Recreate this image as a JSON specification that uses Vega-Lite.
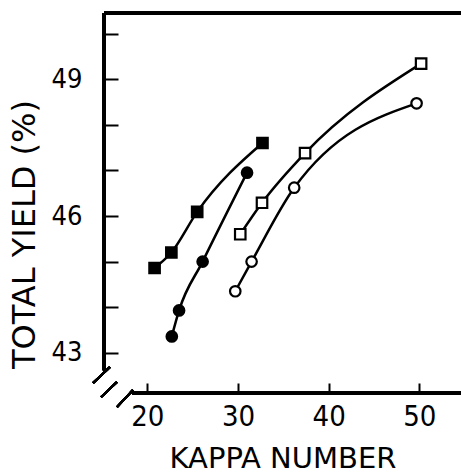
{
  "$schema": "https://vega.github.io/schema/vega-lite/v6.json",
  "width": 357,
  "height": 380,
  "autosize": "none",
  "padding": {"left": 104, "top": 13, "right": 0, "bottom": 83},
  "background": "white",
  "config": {"view": {"stroke": null}},
  "data": {
    "values": [
      {"series": "A", "kappa": 20.8, "yield": 44.86},
      {"series": "A", "kappa": 22.65, "yield": 45.2},
      {"series": "A", "kappa": 25.5, "yield": 46.09},
      {"series": "A", "kappa": 32.7, "yield": 47.6},
      {"series": "B", "kappa": 22.7, "yield": 43.36},
      {"series": "B", "kappa": 23.5, "yield": 43.93},
      {"series": "B", "kappa": 26.1, "yield": 45.0},
      {"series": "B", "kappa": 31.0, "yield": 46.95},
      {"series": "C", "kappa": 30.25, "yield": 45.6},
      {"series": "C", "kappa": 32.65, "yield": 46.29},
      {"series": "C", "kappa": 37.4, "yield": 47.38},
      {"series": "C", "kappa": 50.2, "yield": 49.34},
      {"series": "D", "kappa": 29.7, "yield": 44.35},
      {"series": "D", "kappa": 31.5, "yield": 45.0},
      {"series": "D", "kappa": 36.2, "yield": 46.62},
      {"series": "D", "kappa": 49.7, "yield": 48.47}
    ]
  },
  "encoding": {
    "x": {
      "field": "kappa", "type": "quantitative",
      "scale": {"domain": [15.22, 54.6], "nice": false, "zero": false},
      "axis": {
        "title": "KAPPA NUMBER", "values": [20, 30, 40, 50], "grid": false, "domain": false,
        "tickSize": -10, "tickWidth": 2, "tickColor": "black",
        "labelFont": "DejaVu Sans Condensed", "labelFontSize": 29, "labelColor": "black", "labelPadding": 19,
        "titleFont": "DejaVu Sans", "titleFontSize": 29, "titleFontWeight": "normal", "titleColor": "black", "titlePadding": 13
      }
    },
    "y": {
      "field": "yield", "type": "quantitative",
      "scale": {"domain": [42.12, 50.45], "nice": false, "zero": false},
      "axis": {
        "title": "TOTAL YIELD (%)", "values": [43, 44, 45, 46, 47, 48, 49, 50], "grid": false, "domain": false,
        "labelExpr": "datum.value % 3 == 1 ? datum.label : ''",
        "tickSize": -14, "tickWidth": 2, "tickColor": "black",
        "labelFont": "DejaVu Sans Condensed", "labelFontSize": 27, "labelColor": "black", "labelPadding": 36,
        "titleFont": "DejaVu Sans", "titleFontSize": 32, "titleFontWeight": "normal", "titleColor": "black", "titlePadding": 10,
        "titleY": 221
      }
    }
  },
  "layer": [
    {
      "mark": {"type": "line", "interpolate": "monotone", "color": "black", "strokeWidth": 2.5},
      "encoding": {"detail": {"field": "series"}}
    },
    {
      "mark": {"type": "point", "opacity": 1, "stroke": "black", "strokeWidth": 2.2},
      "encoding": {
        "shape": {"field": "series", "scale": {"domain": ["A", "B", "C", "D"], "range": ["square", "circle", "square", "circle"]}, "legend": null},
        "fill": {"field": "series", "scale": {"domain": ["A", "B", "C", "D"], "range": ["black", "black", "white", "white"]}, "legend": null},
        "size": {"value": 110}
      }
    },
    {
      "mark": {"type": "rule", "color": "black", "strokeWidth": 2.5},
      "encoding": {"x": {"datum": 15.22}, "y": {"datum": 42.62}, "y2": {"datum": 50.45}}
    },
    {
      "mark": {"type": "rule", "color": "black", "strokeWidth": 2.5},
      "encoding": {"x": {"datum": 15.22}, "x2": {"datum": 54.6}, "y": {"datum": 50.45}}
    },
    {
      "mark": {"type": "rule", "color": "black", "strokeWidth": 2.5},
      "encoding": {"x": {"datum": 18.3}, "x2": {"datum": 54.6}, "y": {"datum": 42.12}}
    },
    {
      "mark": {"type": "rule", "color": "black", "strokeWidth": 2},
      "encoding": {"x": {"datum": 14.01}, "y": {"datum": 42.34}, "x2": {"datum": 15.88}, "y2": {"datum": 42.69}}
    },
    {
      "mark": {"type": "rule", "color": "black", "strokeWidth": 2},
      "encoding": {"x": {"datum": 14.89}, "y": {"datum": 42.03}, "x2": {"datum": 16.65}, "y2": {"datum": 42.36}}
    },
    {
      "mark": {"type": "rule", "color": "black", "strokeWidth": 2},
      "encoding": {"x": {"datum": 16.65}, "y": {"datum": 41.81}, "x2": {"datum": 18.42}, "y2": {"datum": 42.19}}
    }
  ]
}
